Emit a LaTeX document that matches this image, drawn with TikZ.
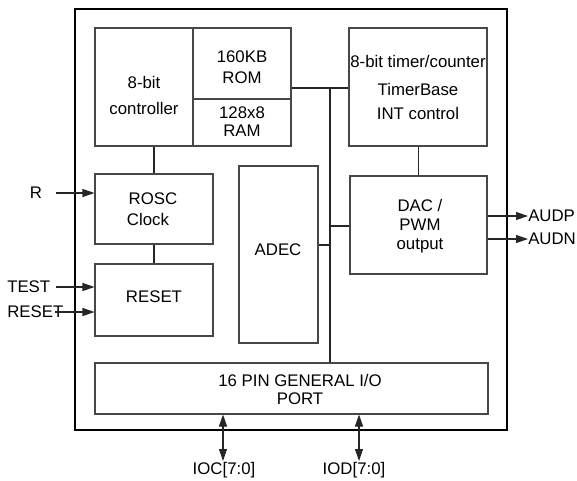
\documentclass[tikz,border=0pt]{standalone}
\usepackage{fontspec}
\setmainfont{Liberation Sans}
\usetikzlibrary{fit,arrows.meta}
\begin{document}
\begin{tikzpicture}[x=0.75pt,y=-0.75pt,
  box/.style={draw=black!72,line width=0.8pt,inner sep=0pt,fit={#1}},
  outerbox/.style={draw=black,line width=0.8pt,inner sep=0pt,fit={#1}},
  txt/.style={inner sep=0pt,align=center,font=\fontsize{12.6}{#1}\selectfont},
  txt/.default=14,
  lbl/.style={inner sep=0pt,font=\fontsize{12.6}{14}\selectfont},
  wire/.style={draw=black!85,line width=0.8pt},
  arr/.style={wire,-{Triangle[length=9pt,width=6pt]}},
  darr/.style={wire,{Triangle[length=9pt,width=6pt]}-{Triangle[length=9pt,width=6pt]}}
]
\useasboundingbox (0,0) rectangle (577,480);
% outer chip
\node[outerbox={(75,9) (507,430)}] (chip) {};
% blocks
\node[box={(95,28) (193,146)}] (ctrl) {};
\node[box={(193,28) (291,99)}] (rom) {};
\node[box={(193,99) (291,146)}] (ram) {};
\node[box={(349,28) (487,146)}] (timer) {};
\node[box={(95,174) (213,244)}] (rosc) {};
\node[box={(95,264) (213,336)}] (reset) {};
\node[box={(239,166) (318,343)}] (adec) {};
\node[box={(350,176) (487,274)}] (dac) {};
\node[box={(95,363) (488,414)}] (io) {};
% texts
\node[txt=19.5] (tctrl) at (144,95) {8-bit\\controller};
\node[txt=15.75] (trom) at (242,67.5) {160KB\\ROM};
\node[txt=13.5] (tram) at (242,122) {128x8\\RAM};
\node[txt] (ttim1) at (418,61) {8-bit timer/counter};
\node[txt] (ttim2) at (418,89) {TimerBase};
\node[txt] (ttim3) at (418,113) {INT control};
\node[txt] (trosc1) at (153,199) {ROSC};
\node[txt] (trosc2) at (148,219) {Clock};
\node[txt] (treset) at (154,297) {RESET};
\node[txt] (tadec) at (278,250) {ADEC};
\node[txt=14.25] (tdac) at (420,226) {DAC /\\PWM\\output};
\node[txt=13.5] (tio) at (300,389) {16 PIN GENERAL I/O\\PORT};
% external labels
\node[lbl] (Rlab) at (36,193) {R};
\node[lbl,anchor=west] (testlab) at (7,287) {TEST};
\node[lbl,anchor=west] (resetlab) at (7,312) {RESET};
\node[lbl,anchor=west] (audp) at (528,216) {AUDP};
\node[lbl,anchor=west] (audn) at (528,239) {AUDN};
\node[lbl] (ioc) at (224,470) {IOC[7:0]};
\node[lbl] (iod) at (354,470) {IOD[7:0]};
% junction coordinates
\coordinate (busTop) at (330,88);
\coordinate (adecJ) at (330,245);
\coordinate (dacJ) at (330,226);
\coordinate (Rin) at (56,193);
\coordinate (testIn) at (56,287);
\coordinate (resetIn) at (55,312);
\coordinate (iocEnd) at (223,461);
\coordinate (iodEnd) at (359,461);
% internal connections
\draw[wire] (rosc.north) -- (rosc.north |- ctrl.south);
\draw[wire] (rosc.south) -- (reset.north);
\draw[wire] (rom.east |- busTop) -- (timer.west |- busTop);
\draw[wire] (busTop) -- (busTop |- io.north);
\draw[wire] (timer.south -| dac.north) -- (dac.north);
\draw[wire] (adecJ -| adec.east) -- (adecJ);
\draw[wire] (dacJ) -- (dacJ -| dac.west);
% external arrows
\draw[arr] (Rin) -- (Rin -| rosc.west);
\draw[arr] (testIn) -- (testIn -| reset.west);
\draw[arr] (resetIn) -- (resetIn -| reset.west);
\draw[arr] (dac.east |- audp.west) -- (audp.west);
\draw[arr] (dac.east |- audn.west) -- (audn.west);
\draw[darr] (iocEnd |- io.south) -- (iocEnd);
\draw[darr] (iodEnd |- io.south) -- (iodEnd);
\end{tikzpicture}
\end{document}
